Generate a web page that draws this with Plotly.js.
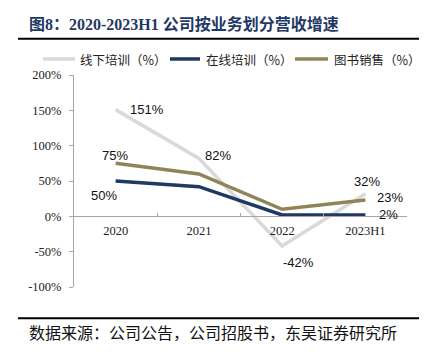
<!DOCTYPE html>
<html><head><meta charset="utf-8">
<script src="https://cdn.plot.ly/plotly-3.0.1.min.js"></script>
<style>html,body{margin:0;padding:0;background:#fff;}#chart{width:431px;height:355px;}</style>
</head><body><div id="chart"></div>
<script>
const categories = ['2020', '2021', '2022', '2023H1'];
const offlineName = '线下培训（%）';
const onlineName = '在线培训（%）';
const booksName = '图书销售（%）';
const offline = [151, 82, -42, 32];
const online = [50, 42, 2, 2];
const books = [75, 60, 10, 23];
const offlineLabels = ['151%', '82%', '-42%', '32%'];
const onlineLabels = ['50%', '', '', '2%'];
const booksLabels = ['75%', '', '', '23%'];
const yTickVals = [-100, -50, 0, 50, 100, 150, 200];
const yTickText = ['-100%', '-50%', '0%', '50%', '100%', '150%', '200%'];

const colors = {offline: '#d9d9d9', online: '#1f3864', books: '#8f8458'};
const lw = 3.5;

const traces = [
  {x: categories, y: offline, name: offlineName, type: 'scatter', mode: 'lines', line: {color: colors.offline, width: lw}, showlegend: false},
  {x: categories, y: online, name: onlineName, type: 'scatter', mode: 'lines', line: {color: colors.online, width: lw}, showlegend: false},
  {x: categories, y: books, name: booksName, type: 'scatter', mode: 'lines', line: {color: colors.books, width: lw}, showlegend: false}
];

// label placement offsets (pixels) per series/point
const offs = {
  offline: [[31, 0], [19, 3], [16, -16], [2, 12]],
  online: [[-12, -14], [0, 0], [0, 0], [23, 0]],
  books: [[-1, 8], [0, 0], [0, 0], [25, 3]]
};
const annos = [];
function addLabels(vals, labels, off) {
  vals.forEach((v, i) => {
    if (!labels[i]) return;
    annos.push({x: i, y: v, xref: 'x', yref: 'y', text: labels[i], showarrow: false,
      xshift: off[i][0], yshift: off[i][1], font: {family: 'Liberation Sans, Arial', size: 13, color: '#111'}});
  });
}
addLabels(offline, offlineLabels, offs.offline);
addLabels(online, onlineLabels, offs.online);
addLabels(books, booksLabels, offs.books);

// plot area: x 74..407 (333px), y 75..286.7 (211.7px)
const PW = 333, PH = 211.7, PL = 74, PT = 75;
const px = v => (v - PL) / PW;
const py = v => (PT + PH - v) / PH;

annos.push({xref: 'paper', yref: 'paper', x: px(27), y: py(24), xanchor: 'left', yanchor: 'middle', showarrow: false,
  text: '<b>图8：2020-2023H1 公司按业务划分营收增速</b>',
  font: {family: 'Liberation Serif, Noto Sans CJK SC', size: 16, color: '#1f3864'}});
annos.push({xref: 'paper', yref: 'paper', x: px(27), y: py(331.7), xanchor: 'left', yanchor: 'middle', showarrow: false,
  text: '数据来源：公司公告，公司招股书，东吴证券研究所',
  font: {family: 'Noto Sans CJK SC', size: 16, color: '#111'}});

// manual legend
const legendItems = [
  {name: offlineName, color: colors.offline, x0: 43, x1: 75, tx: 78},
  {name: onlineName, color: colors.online, x0: 170, x1: 200, tx: 204},
  {name: booksName, color: colors.books, x0: 295, x1: 328, tx: 332}
];
const shapes = [
  {type: 'line', xref: 'paper', yref: 'paper', x0: px(18), x1: px(419), y0: py(38.7), y1: py(38.7), line: {color: '#000', width: 2}},
  {type: 'line', xref: 'paper', yref: 'paper', x0: px(18), x1: px(419), y0: py(318), y1: py(318), line: {color: '#000', width: 2}}
];
legendItems.forEach(it => {
  shapes.push({type: 'line', xref: 'paper', yref: 'paper', x0: px(it.x0), x1: px(it.x1), y0: py(59), y1: py(59),
    line: {color: it.color, width: 3.5}});
  annos.push({xref: 'paper', yref: 'paper', x: px(it.tx), y: py(59.5), xanchor: 'left', yanchor: 'middle', showarrow: false,
    text: it.name, font: {family: 'Noto Sans CJK SC', size: 12.5, color: '#222'}});
});

const layout = {
  width: 431, height: 355,
  margin: {l: 74, r: 24, t: 75, b: 68.3},
  paper_bgcolor: '#fff', plot_bgcolor: '#fff',
  showlegend: false,
  xaxis: {type: 'category', range: [-0.5, 3.5], anchor: 'free', position: 1/3,
    showline: true, linecolor: '#a6a6a6', linewidth: 1, showgrid: false, zeroline: false,
    ticks: 'inside', tickson: 'boundaries', ticklen: 3, tickcolor: '#a6a6a6', ticklabelstandoff: 3,
    tickfont: {family: 'Liberation Serif, Times New Roman', size: 12.5, color: '#222'}, fixedrange: true},
  yaxis: {range: [-100, 200], tickvals: yTickVals, ticktext: yTickText,
    showline: true, linecolor: '#a6a6a6', linewidth: 1, showgrid: false, zeroline: false,
    ticks: 'outside', ticklen: 4, tickcolor: '#a6a6a6', ticklabelstandoff: 5,
    tickfont: {family: 'Liberation Serif, Times New Roman', size: 12.5, color: '#222'}},
  shapes: shapes,
  annotations: annos
};
Plotly.newPlot('chart', traces, layout, {displayModeBar: false, staticPlot: true});
</script></body></html>
